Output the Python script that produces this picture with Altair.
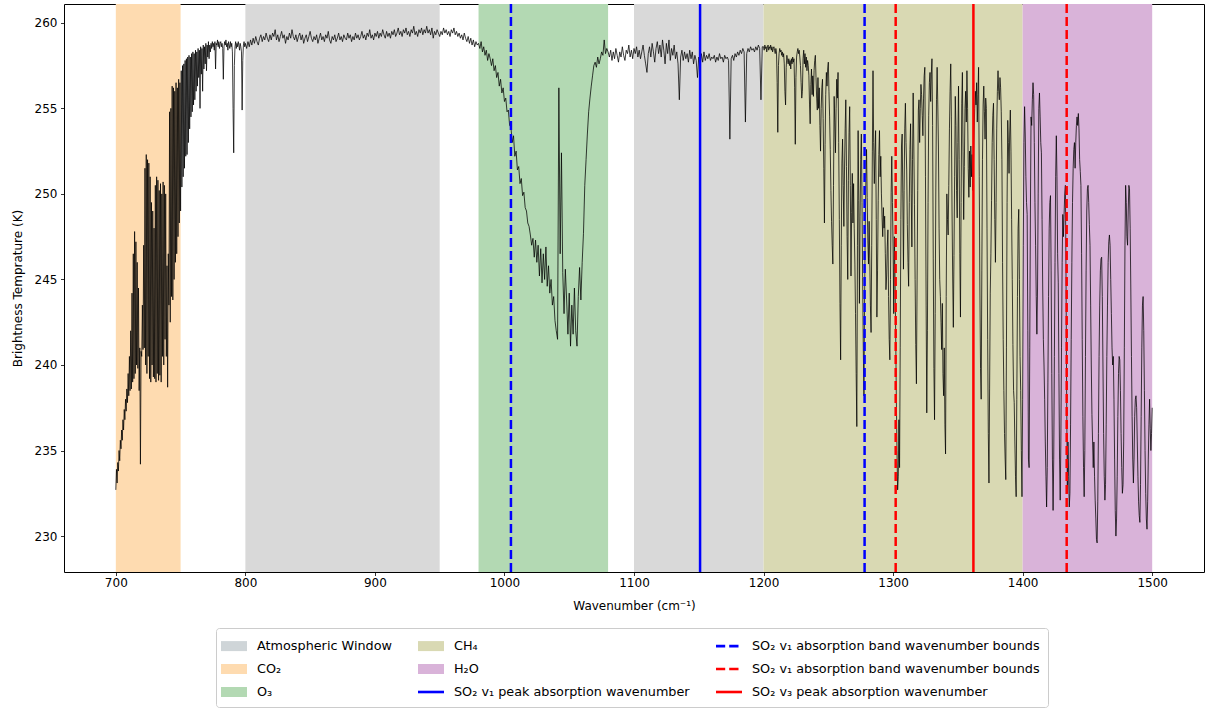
import json

import altair as alt
import pandas as pd

# Brightness temperature spectrum (K), stored as contiguous segments.
# Each segment: first wavenumber, sample spacing (cm^-1), values.
co2_start, co2_step = 700.0, 0.5
bt_co2 = [
    232.7, 233.9, 233.1, 234.3, 233.8, 235.0, 234.4, 235.6, 235.1, 236.2,
    235.6, 236.8, 236.2, 237.4, 236.8, 238.0, 237.3, 238.6, 237.8, 239.5,
    238.2, 240.5, 238.5, 242.0, 238.6, 244.2, 239.0, 246.5, 239.2, 247.8,
    239.5, 247.2, 240.0, 246.0, 239.8, 244.5, 238.5, 241.0, 234.2, 240.8,
    240.5, 243.5, 240.9, 247.0, 241.0, 251.5, 240.0, 252.3, 239.5, 252.0,
    240.5, 251.8, 239.2, 251.0, 239.0, 249.5, 240.0, 249.0, 239.3, 248.0,
    239.2, 250.5, 239.0, 251.0, 239.5, 250.8, 239.1, 250.2, 239.4, 250.6,
    239.0, 250.0, 240.5, 250.7, 240.0, 250.5, 241.5, 250.0, 240.5, 245.8,
    238.7, 246.5, 243.5, 254.8, 242.5, 255.0, 244.0, 256.3, 243.8, 256.2,
    245.0, 256.0, 246.0, 256.5, 246.5, 256.2, 247.5, 256.7, 248.3, 256.5,
    249.0, 257.2, 250.4, 257.5, 251.0, 257.6, 251.5, 257.8, 252.2, 257.9,
    252.3, 258.0, 253.0, 258.1, 253.8, 258.0, 254.5, 258.2, 254.8, 258.3,
    255.2, 258.2, 255.5, 258.4, 256.0, 258.3, 256.3, 258.5, 256.8, 258.4,
    255.0, 258.6, 257.0, 258.5, 256.0, 258.7, 257.3, 258.6, 257.6, 258.8,
    257.2, 258.7, 258.0, 258.9, 257.9, 258.7, 258.3, 258.8, 258.5, 258.9,
    258.6, 258.8, 258.4, 258.9, 257.3, 258.8, 258.7, 259.0, 258.6, 258.9,
    258.5, 258.8, 258.9, 258.6, 258.8, 258.5, 256.7, 258.6, 258.9, 258.7,
    259.0, 258.6, 258.8, 258.4, 258.9, 258.7, 258.5, 258.9, 258.6, 258.8,
    258.3, 255.0, 252.4, 257.5, 258.6, 258.9, 258.5, 258.8, 258.6, 258.9,
    258.7, 258.4, 258.8, 258.6, 258.3, 254.9, 257.8, 258.7, 258.9, 258.6,
]

lw_start, lw_step = 800.0, 1.0
bt_longwave_window = [
    258.8, 258.5, 258.9, 258.6, 259.0, 258.7, 259.1, 258.8, 259.2, 258.9,
    258.7, 259.1, 259.3, 258.9, 259.2, 259.0, 259.4, 259.1, 258.9, 259.3,
    259.0, 259.4, 259.2, 259.6, 259.0, 259.3, 258.9, 259.2, 259.5, 259.1,
    259.3, 258.8, 259.2, 259.0, 259.4, 259.1, 259.6, 259.2, 259.0, 259.3,
    258.9, 259.2, 259.4, 259.0, 259.3, 258.8, 259.1, 259.3, 258.9, 259.2,
    259.5, 259.1, 258.9, 259.2, 259.0, 259.3, 258.8, 259.1, 259.4, 259.0,
    259.2, 258.9, 259.3, 259.1, 259.5, 259.0, 258.8, 259.2, 259.0, 259.3,
    258.9, 259.1, 259.4, 259.0, 259.2, 258.9, 259.3, 259.1, 259.0, 259.4,
    259.1, 259.3, 258.9, 259.2, 259.0, 259.4, 259.1, 259.3, 259.0, 259.2,
    259.5, 259.1, 259.3, 259.0, 259.4, 259.2, 259.6, 259.1, 259.3, 259.0,
    259.4, 259.2, 259.5, 259.1, 259.4, 259.2, 259.6, 259.3, 259.1, 259.5,
    259.2, 259.4, 259.1, 259.5, 259.3, 259.6, 259.2, 259.4, 259.7, 259.3,
    259.5, 259.2, 259.6, 259.4, 259.7, 259.3, 259.5, 259.2, 259.6, 259.4,
    259.8, 259.3, 259.5, 259.2, 259.6, 259.4, 259.7, 259.3, 259.6, 259.4,
    259.8, 259.4, 259.6, 259.3, 259.7, 259.1, 259.5, 259.3, 259.6, 259.4,
    259.2, 259.5, 259.3, 259.7, 259.4, 259.6, 259.3, 259.5, 259.2, 259.6,
    259.4, 259.7, 259.3, 259.5, 259.2, 259.4, 259.1, 259.3, 259.0, 259.4,
    259.1, 258.9, 259.2, 258.8, 259.1, 258.7, 259.0, 258.6, 258.9, 258.7,
]

o3_start, o3_step = 980.0, 1.0
bt_o3 = [
    258.8, 258.5, 258.9, 258.3, 258.6, 258.1, 258.4, 257.8, 258.2, 257.9,
    257.5, 257.9, 257.2, 257.5, 256.8, 257.1, 256.3, 256.7, 255.9, 256.2,
    255.4, 255.6, 254.8, 254.9, 254.0, 253.9, 253.0, 253.4, 252.2, 252.5,
    251.4, 251.6, 250.6, 250.9, 249.9, 250.1, 249.2, 249.0, 248.3, 248.1,
    247.6, 247.0, 247.4, 246.3, 247.3, 246.0, 247.0, 245.2, 246.8, 244.8,
    246.5, 245.0, 246.9, 244.6, 245.8, 244.2, 245.0, 243.5, 244.0, 242.6,
    242.0, 241.5, 256.2, 246.5, 252.4, 245.4, 243.0, 245.6, 243.8, 241.8,
    244.2, 241.1, 243.5, 241.8, 244.5, 242.0, 241.1, 244.0, 245.7, 243.8,
    246.0, 247.7, 250.5, 252.0, 253.5, 254.8, 255.6, 256.3, 256.9, 257.5,
    257.7, 257.4, 258.0, 257.6, 257.9, 258.3, 258.1, 259.0, 258.2, 258.5,
    258.3,
]

mw_start, mw_step = 1081.0, 1.0
bt_midwave_window = [
    258.0, 258.4, 257.8, 258.3, 257.9, 258.5, 258.1, 257.7, 258.3, 258.0,
    258.6, 258.1, 257.8, 258.4, 258.2, 258.7, 258.0, 258.4, 257.9, 258.5,
    258.2, 258.6, 258.0, 258.4, 257.9, 258.3, 258.7, 258.1, 257.6, 257.1,
    258.2, 258.6, 258.0, 258.8, 258.3, 257.7, 258.5, 258.9, 258.2, 258.7,
    258.0, 259.0, 258.4, 257.6, 258.8, 258.2, 259.0, 257.8, 258.5, 258.1,
    258.7, 257.9, 258.3, 257.6, 255.5, 258.0, 258.4, 257.8, 258.3, 257.9,
    258.2, 257.7, 258.4, 257.9, 258.3, 257.6, 258.1, 257.8, 256.8, 258.0,
    257.4, 258.2, 257.7, 258.3, 257.8, 258.1, 257.9, 258.2, 257.8, 258.0,
    257.9, 258.1, 257.7, 258.0, 257.8, 258.2, 257.9, 258.0, 257.7, 258.1,
    257.9, 258.0, 257.8, 253.2, 257.9, 258.1, 257.8, 258.2, 258.0, 258.3,
    258.1, 258.4, 258.2, 258.5, 258.3, 254.2, 258.2, 258.5, 258.3, 258.6,
    258.4, 258.5, 258.3, 258.6, 258.4, 258.7, 258.5, 255.5, 258.6,
]

ch4_start, ch4_step = 1200.0, 0.5
bt_ch4 = [
    258.6, 258.4, 258.7, 258.5, 258.6, 258.3, 258.6, 258.7, 258.4, 258.6,
    258.5, 258.7, 258.4, 258.6, 258.3, 258.5, 258.6, 258.4, 258.2, 258.5,
    258.3, 256.5, 253.6, 257.5, 258.2, 258.5, 258.3, 258.4, 258.1, 258.3,
    258.0, 258.2, 257.6, 256.0, 255.2, 257.4, 258.1, 257.8, 257.6, 257.9,
    257.5, 257.8, 257.3, 257.9, 257.6, 258.0, 257.7, 257.9, 256.2, 252.9,
    256.8, 258.0, 258.3, 258.5, 258.2, 258.4, 258.0, 257.5, 256.5, 255.6,
    256.0, 257.9, 258.4, 257.6, 258.2, 257.4, 258.0, 257.2, 257.8, 257.5,
    256.9, 255.2, 254.1, 256.4, 257.3, 255.8, 256.9, 255.7, 257.2, 257.8,
    258.1, 256.8, 255.6, 254.9, 256.8, 255.0, 256.2, 254.0, 252.5, 255.0,
    256.2, 256.7, 254.4, 251.5, 248.3, 252.9, 255.8, 257.1, 256.3, 257.3,
    257.7, 256.0, 254.5, 252.6, 250.2, 248.4, 247.0, 245.9, 250.5, 255.7,
    254.2, 252.4, 255.0, 256.7, 255.6, 257.1, 253.0, 248.5, 243.6, 240.3,
    247.0, 251.8, 253.2, 250.5, 248.1, 251.4, 253.8, 255.5, 251.6, 247.5,
    245.0, 250.8, 253.6, 255.1, 250.5, 245.2, 248.9, 251.2, 248.3, 250.6,
    248.0, 245.9, 243.0, 239.5, 236.4, 247.0, 253.7, 249.6, 243.6, 248.7,
    252.0, 253.5, 249.5, 245.1, 241.0, 238.2, 243.8, 248.0, 250.9, 252.6,
    249.8, 247.3, 245.9, 248.4, 246.2, 243.5, 241.9, 247.0, 252.5, 257.2,
    253.0, 250.6, 252.4, 253.7, 248.5, 242.8, 245.5, 249.6, 252.3, 253.7,
    251.0, 252.2, 250.0, 248.6, 247.5, 249.2, 248.0, 248.7, 246.5, 244.4,
    245.2, 246.9, 247.9, 244.0, 241.5, 240.3, 245.0, 250.1, 252.2, 249.5,
    246.9, 243.0, 247.5, 245.0, 242.0, 238.0, 235.0, 232.7, 233.5, 236.8,
    234.0, 241.0, 248.5, 252.8, 253.5, 250.0, 245.6, 250.2, 253.8, 255.3,
    253.0, 251.4, 248.2, 246.0, 244.6, 249.5, 252.6, 254.1, 250.0, 246.9,
    252.0, 255.9, 252.8, 249.4, 245.0, 241.2, 238.9, 244.5, 250.2, 254.9,
    255.5, 253.0, 255.0, 256.4, 255.8, 254.6, 253.4, 255.6, 256.9, 257.4,
    251.0, 243.5, 237.2, 242.0, 249.5, 254.6, 256.5, 257.1, 255.4, 257.0,
    257.9, 254.0, 246.2, 239.8, 236.8, 243.0, 250.4, 255.5, 257.4, 255.2,
    252.8, 248.0, 245.0, 244.0, 242.5, 240.9, 243.6, 239.5, 238.2, 241.0,
    236.5, 234.8, 244.0, 250.0, 248.5, 247.6, 250.5, 253.8, 256.0, 257.6,
    254.5, 249.0, 245.2, 242.2, 246.4, 251.0, 255.7, 254.0, 250.2, 248.6,
    253.0, 256.3, 252.0, 246.5, 242.8, 249.5, 255.3, 257.1, 252.5, 248.5,
    251.6, 255.0, 256.0, 254.2, 257.2, 255.0, 251.5, 249.8, 252.5, 250.4,
    252.8, 251.0, 252.3, 250.2, 251.5, 253.5, 255.0, 256.0, 255.2, 256.5,
    254.2, 255.8, 257.4, 251.0, 244.5, 239.8, 238.0, 245.5, 252.0, 255.2,
    256.3, 254.8, 253.2, 255.6, 255.0, 248.0, 241.5, 236.0, 233.1, 238.6,
    244.2, 246.5, 249.6, 253.0, 254.6, 255.3, 252.0, 248.5, 246.0, 249.5,
    253.8, 256.0, 257.2, 256.0, 255.5, 256.8, 256.2, 254.8, 252.0, 246.0,
    241.5, 238.5, 236.0, 234.5, 233.3, 241.0, 249.5, 254.3, 253.0, 251.2,
    253.5, 254.9, 252.5, 248.5, 245.0, 241.2, 238.5, 237.8, 235.5, 233.5,
    232.3, 238.0, 244.0, 248.0, 249.1, 245.0, 240.5, 238.5, 235.0, 232.3,
]

h2o_start, h2o_step = 1400.0, 0.5
bt_h2o = [
    238.0, 247.0, 253.0, 255.1, 253.5, 251.0, 249.5, 248.8, 242.0, 234.5,
    234.0, 241.0, 249.0, 254.5, 254.0, 255.5, 256.5, 255.8, 253.0, 249.5,
    247.0, 244.0, 241.8, 244.5, 250.0, 255.0, 255.9, 254.5, 253.0, 252.4,
    248.5, 244.5, 241.5, 240.0, 238.0, 235.5, 233.5, 231.7, 234.0, 239.0,
    244.0, 248.0, 249.5, 249.9, 245.5, 239.5, 234.5, 231.5, 234.5, 240.5,
    246.0, 251.0, 253.4, 251.0, 246.5, 244.8, 239.5, 234.5, 232.1, 235.5,
    241.0, 246.0, 248.8, 247.5, 248.8, 250.0, 250.5, 245.0, 238.0, 232.5,
    235.5, 233.5, 231.7, 232.5, 236.5, 241.5, 246.0, 249.5, 251.5, 252.6,
    253.0, 251.5, 253.0, 254.0, 254.5, 254.0, 254.7, 253.8, 252.0, 251.3,
    250.5, 246.5, 241.5, 237.0, 234.0, 232.3, 235.0, 240.5, 245.5, 249.0,
    250.3, 250.5, 249.5, 248.2, 247.0, 243.5, 240.0, 237.1, 235.5, 234.0,
    235.5, 233.5, 232.1, 231.0, 229.8, 229.6, 232.0, 236.0, 240.5, 243.5,
    245.5, 246.2, 246.3, 244.0, 240.0, 236.0, 233.5, 232.1, 233.0, 236.5,
    240.5, 243.5, 246.0, 247.2, 247.6, 247.0, 245.0, 243.0, 241.0, 240.0,
    240.5, 238.0, 234.5, 231.5, 230.0, 231.0, 233.5, 237.0, 239.5, 240.5,
    240.3, 238.5, 236.0, 234.0, 232.5, 233.0, 235.5, 241.0, 247.0, 250.5,
    249.5, 247.5, 247.0, 249.0, 250.5, 250.3, 248.0, 244.5, 240.5, 237.0,
    234.5, 233.1, 234.5, 237.0, 238.0, 238.2, 237.5, 235.5, 233.5, 232.0,
    231.2, 230.8, 233.0, 237.0, 241.0, 243.5, 244.0, 242.0, 238.5, 235.0,
    232.5, 231.0, 230.4, 232.0, 234.5, 236.5, 238.0, 236.3, 235.0, 236.0,
    237.5,
]

# Absorption / window bands (cm^-1)
band_names = ["Atmospheric Window", "Atmospheric Window", "CO2", "O3", "CH4", "H2O"]
band_start = [800, 1100, 700, 980, 1200, 1400]
band_end = [950, 1200, 750, 1080, 1400, 1500]

# SO2 reference wavenumbers (cm^-1)
marker_mode = ["v1", "v1", "v1", "v3", "v3", "v3"]
marker_kind = ["bounds", "bounds", "peak", "bounds", "bounds", "peak"]
marker_wn = [1005, 1278, 1151, 1302, 1434, 1362]

x_ticks = [700, 800, 900, 1000, 1100, 1200, 1300, 1400, 1500]
y_ticks = [230, 235, 240, 245, 250, 255, 260]

# Legend entries, in reading order down each of the three columns
legend_keys = ["window", "co2", "o3", "ch4", "h2o", "v1_peak",
               "v1_bounds", "v3_bounds", "v3_peak"]
legend_labels = [
    "Atmospheric Window",
    "CO₂",
    "O₃",
    "CH₄",
    "H₂O",
    "SO₂ v₁ peak absorption wavenumber",
    "SO₂ v₁ absorption band wavenumber bounds",
    "SO₂ v₁ absorption band wavenumber bounds",
    "SO₂ v₃ peak absorption wavenumber",
]

# ---------------------------------------------------------------- tables
segments = [
    (co2_start, co2_step, bt_co2),
    (lw_start, lw_step, bt_longwave_window),
    (o3_start, o3_step, bt_o3),
    (mw_start, mw_step, bt_midwave_window),
    (ch4_start, ch4_step, bt_ch4),
    (h2o_start, h2o_step, bt_h2o),
]
rows = []
for start, step, values in segments:
    for i, v in enumerate(values):
        rows.append({"wn": start + i * step, "bt": v})
spectrum = pd.DataFrame(rows)

bands = pd.DataFrame({"band": band_names, "start": band_start, "end": band_end})
markers = pd.DataFrame({"mode": marker_mode, "kind": marker_kind, "wn": marker_wn})
legend_df = pd.DataFrame({"key": legend_keys})

# ---------------------------------------------------------------- styling
FONT = "DejaVu Sans"
band_order = ["Atmospheric Window", "CO2", "O3", "CH4", "H2O"]
band_fill = ["#d9d9d9", "#fedbb0", "#b3d9b3", "#d9d9b3", "#d9b3d9"]

PATCH = "M-1.3,-0.5H1.3V0.5H-1.3Z"
SOLID = "M-1.3,-0.13H1.3V0.13H-1.3Z"
DASHED = "M-1.3,-0.13H-0.38V0.13H-1.3Z M0.02,-0.13H0.95V0.13H0.02Z"
legend_style = {
    "window": ("#cfd5d8", PATCH),
    "ch4": ("#d9d9b3", PATCH),
    "v1_bounds": ("#0000ff", DASHED),
    "co2": ("#fedbb0", PATCH),
    "h2o": ("#d9b3d9", PATCH),
    "v3_bounds": ("#ff0000", DASHED),
    "o3": ("#b3d9b3", PATCH),
    "v1_peak": ("#0000ff", SOLID),
    "v3_peak": ("#ff0000", SOLID),
}
legend_colors = [legend_style[k][0] for k in legend_keys]
legend_shapes = [legend_style[k][1] for k in legend_keys]

label_expr = " : ".join(
    f"datum.value === {json.dumps(k)} ? {json.dumps(l, ensure_ascii=False)}"
    for k, l in zip(legend_keys, legend_labels)
) + " : ''"

x_scale = alt.Scale(domain=[660, 1540], nice=False, zero=False)
y_scale = alt.Scale(domain=[227.9, 261.1], nice=False, zero=False)

x_axis = alt.Axis(
    values=x_ticks, format="d", title="Wavenumber (cm⁻¹)", grid=False,
    domain=False, tickSize=3.5, tickWidth=0.8, tickColor="black",
    labelFontSize=12, labelColor="black", labelPadding=2, labelFlush=False,
    labelOverlap=False, titleFontSize=12, titleFontWeight="normal",
    titleColor="black", titleX=570, titleY=33, titleBaseline="middle",
)
y_axis = alt.Axis(
    values=y_ticks, format="d", title="Brightness Temprature (K)", grid=False,
    domain=False, tickSize=3.5, tickWidth=0.8, tickColor="black",
    labelFontSize=12, labelColor="black", labelPadding=3.5, labelFlush=False,
    labelOverlap=False, titleFontSize=12, titleFontWeight="normal",
    titleColor="black", titleX=-47, titleY=284, titleBaseline="middle",
)

legend = alt.Legend(
    title=None, orient="none", legendX=152, legendY=624, columns=3,
    gridAlign="each", columnPadding=26, rowPadding=6, symbolSize=400,
    symbolStrokeWidth=0, symbolOpacity=1, labelOffset=13, labelFont=FONT,
    labelFontSize=12.8, labelColor="black", labelLimit=0, labelExpr=label_expr,
    strokeColor="#cccccc", fillColor="white", padding=8, cornerRadius=3,
)

# ---------------------------------------------------------------- layers
spans = alt.Chart(bands).mark_rect().encode(
    x=alt.X("start:Q", scale=x_scale, axis=x_axis),
    x2="end:Q",
    fill=alt.Fill("band:N", scale=alt.Scale(domain=band_order, range=band_fill),
                  legend=None),
)

trace = alt.Chart(spectrum).mark_line(color="black", strokeWidth=0.75).encode(
    x=alt.X("wn:Q", scale=x_scale, axis=x_axis),
    y=alt.Y("bt:Q", scale=y_scale, axis=y_axis),
)

so2_stroke = alt.Stroke("mode:N", scale=alt.Scale(domain=["v1", "v3"],
                        range=["#0000ff", "#ff0000"]), legend=None)

bounds_rules = alt.Chart(markers).transform_filter(
    alt.datum.kind == "bounds"
).mark_rule(strokeWidth=2.5, strokeDash=[9, 4]).encode(
    x=alt.X("wn:Q", scale=x_scale), stroke=so2_stroke,
)

peak_rules = alt.Chart(markers).transform_filter(
    alt.datum.kind == "peak"
).mark_rule(strokeWidth=2.5).encode(
    x=alt.X("wn:Q", scale=x_scale), stroke=so2_stroke,
)

legend_layer = alt.Chart(legend_df).mark_point(filled=True, opacity=0).encode(
    color=alt.Color("key:N", scale=alt.Scale(domain=legend_keys, range=legend_colors),
                    legend=legend),
    shape=alt.Shape("key:N", scale=alt.Scale(domain=legend_keys, range=legend_shapes),
                    legend=legend),
)

chart = alt.layer(spans, trace, bounds_rules, peak_rules, legend_layer).properties(
    width=1140,
    height=568,
    padding={"left": 64, "top": 4, "right": 4, "bottom": 136},
    autosize=alt.AutoSizeParams(type="none"),
    background="white",
).configure(font=FONT).configure_view(stroke="black", strokeWidth=1)

chart.save("out.html", embed_options={"renderer": "svg", "actions": False})
